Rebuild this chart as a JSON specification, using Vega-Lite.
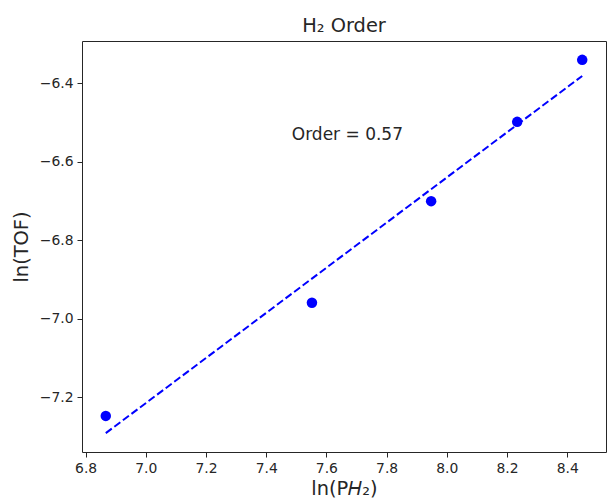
{
  "$schema": "https://vega.github.io/schema/vega-lite/v6.json",
  "autosize": "none",
  "width": 524,
  "height": 411,
  "padding": {"left": 82, "top": 41, "right": 1, "bottom": 50},
  "background": "white",
  "config": {
    "font": "DejaVu Sans",
    "view": {"stroke": "#262626", "strokeWidth": 1},
    "axis": {
      "grid": false,
      "domain": false,
      "tickColor": "#262626",
      "tickSize": 5,
      "labelFontSize": 13.9,
      "labelColor": "#262626",
      "labelPadding": 4,
      "titleFontSize": 19.4,
      "titleFontWeight": "normal",
      "titleColor": "#262626"
    }
  },
  "title": {"text": "H₂ Order", "fontSize": 19.4, "fontWeight": "normal", "color": "#262626", "offset": 5},
  "datasets": {
    "points": [
      {"lnP": 6.867, "lnTOF": -7.248},
      {"lnP": 7.552, "lnTOF": -6.960},
      {"lnP": 7.948, "lnTOF": -6.701},
      {"lnP": 8.234, "lnTOF": -6.499},
      {"lnP": 8.450, "lnTOF": -6.341}
    ],
    "fit": [
      {"lnP": 6.867, "lnTOF": -7.292},
      {"lnP": 8.450, "lnTOF": -6.382}
    ],
    "note": [
      {"lnP": 7.485, "lnTOF": -6.545, "label": "Order = 0.57"}
    ]
  },
  "encoding": {
    "x": {
      "field": "lnP", "type": "quantitative",
      "scale": {"domain": [6.788, 8.529], "nice": false, "zero": false},
      "axis": {"values": [6.8, 7.0, 7.2, 7.4, 7.6, 7.8, 8.0, 8.2, 8.4], "format": ".1f", "title": "ln(P𝐻₂)", "titlePadding": 5}
    },
    "y": {
      "field": "lnTOF", "type": "quantitative",
      "scale": {"domain": [-7.340, -6.293], "nice": false, "zero": false},
      "axis": {"values": [-7.2, -7.0, -6.8, -6.6, -6.4], "format": ".1f", "title": "ln(TOF)", "titlePadding": 8}
    }
  },
  "layer": [
    {
      "data": {"name": "fit"},
      "mark": {"type": "line", "color": "#0000ff", "strokeWidth": 2, "strokeDash": [7.5, 3.2]}
    },
    {
      "data": {"name": "points"},
      "mark": {"type": "point", "filled": true, "color": "#0000ff", "size": 110, "opacity": 1}
    },
    {
      "data": {"name": "note"},
      "mark": {"type": "text", "align": "left", "baseline": "alphabetic", "fontSize": 17, "color": "#262626"},
      "encoding": {"text": {"field": "label"}}
    }
  ]
}
